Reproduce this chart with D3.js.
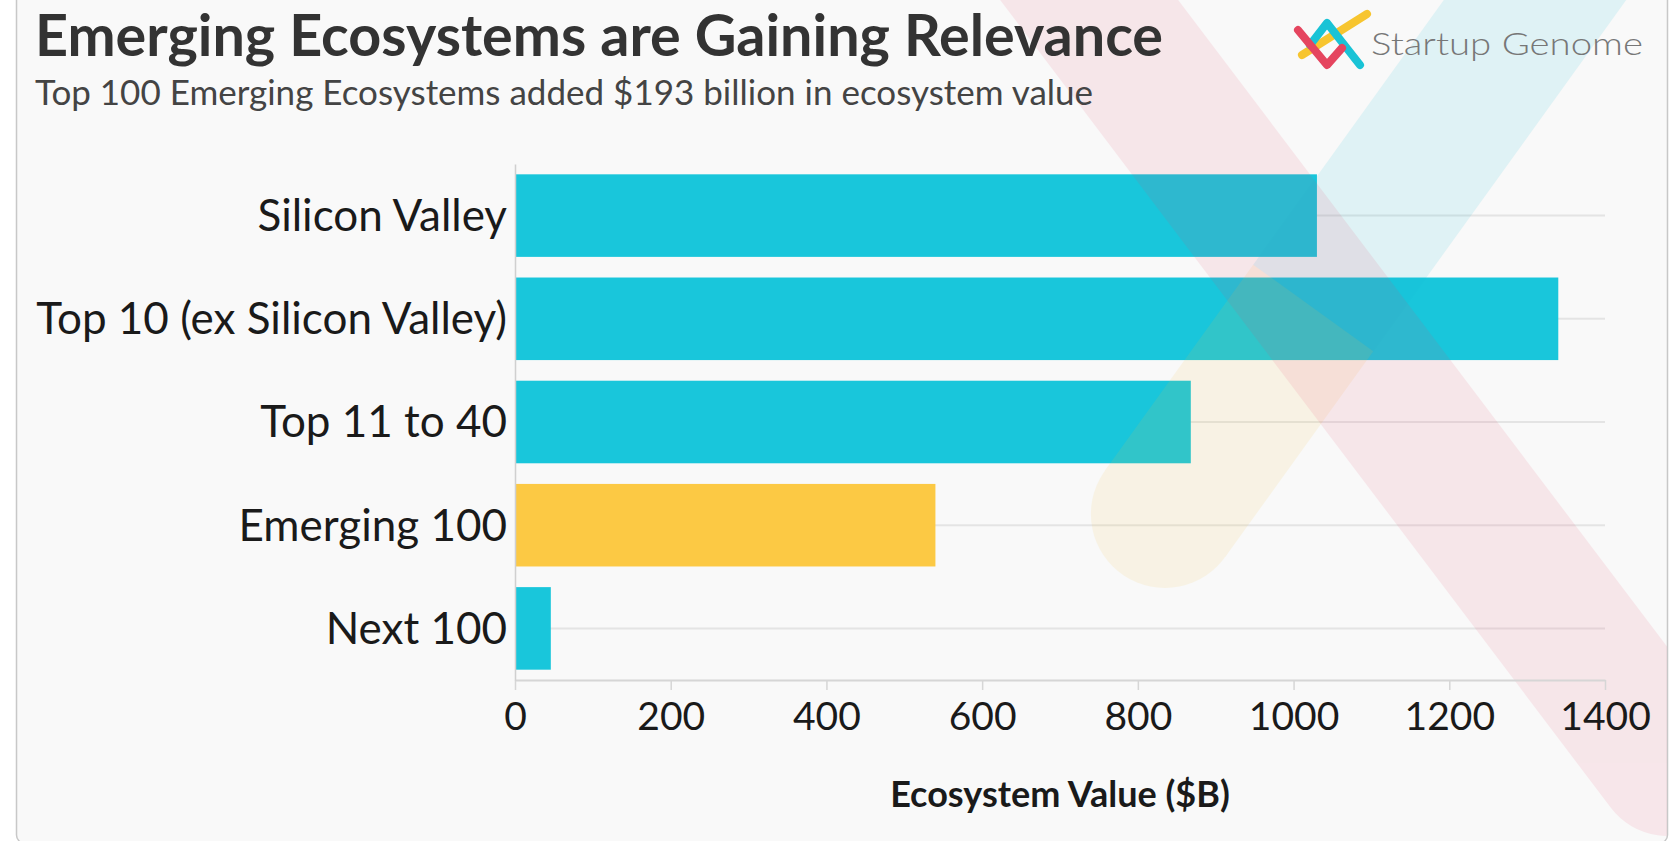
<!DOCTYPE html>
<html>
<head>
<meta charset="utf-8">
<script src="https://cdn.jsdelivr.net/npm/d3@7"></script>
<style>
  html, body { margin: 0; padding: 0; background: #ffffff; }
  svg { display: block; }
</style>
</head>
<body>
<svg id="chart" width="1671" height="841"></svg>
<script>
// ---- data ----
const categories = ["Silicon Valley", "Top 10 (ex Silicon Valley)", "Top 11 to 40", "Emerging 100", "Next 100"];
const values = [1030, 1340, 868, 540, 46];
const highlight = ["Emerging 100"];
const xTicks = [0, 200, 400, 600, 800, 1000, 1200, 1400];
const title = "Emerging Ecosystems are Gaining Relevance";
const subtitle = "Top 100 Emerging Ecosystems added $193 billion in ecosystem value";
const xAxisTitle = "Ecosystem Value ($B)";
const brand = "Startup Genome";

const data = categories.map((c, i) => ({ cat: c, value: values[i] }));

const svg = d3.select("#chart");
const FONT = "Lato, 'Noto Sans', sans-serif";

// panel
svg.append("defs").append("clipPath").attr("id", "panelClip")
  .append("rect").attr("x", 17).attr("y", -20).attr("width", 1650).attr("height", 862).attr("rx", 8);

svg.append("rect")
  .attr("x", 16.5).attr("y", -20).attr("width", 1651).attr("height", 863).attr("rx", 8)
  .attr("fill", "#f9f9f9").attr("stroke", "#c8c8c8").attr("stroke-width", 1.5);

// scales
const x = d3.scaleLinear().domain([0, 1400]).range([515, 1605]);
const y = d3.scaleBand().domain(categories).range([164, 680]).paddingInner(0.2).paddingOuter(0.1);

// gridlines at category centres
svg.append("g").selectAll("line").data(categories).join("line")
  .attr("x1", x(0)).attr("x2", x(1400))
  .attr("y1", d => y(d) + y.bandwidth() / 2).attr("y2", d => y(d) + y.bandwidth() / 2)
  .attr("stroke", "#e4e4e4").attr("stroke-width", 2);

// bars
svg.append("g").selectAll("rect").data(data).join("rect")
  .attr("x", x(0))
  .attr("y", d => y(d.cat))
  .attr("width", d => x(d.value) - x(0))
  .attr("height", y.bandwidth())
  .attr("fill", d => highlight.includes(d.cat) ? "#fcc944" : "#19c6db");

// watermark "X"
const wm = svg.append("g").attr("clip-path", "url(#panelClip)");
// yellow / cyan band (bottom-left to top-right)
const bandX = Y => 1535 - 0.72 * Y;
const cross = 308;
const yel = wm.append("g").attr("opacity", 0.11);
yel.append("line")
  .attr("x1", bandX(514)).attr("y1", 514).attr("x2", bandX(cross)).attr("y2", cross)
  .attr("stroke", "#f5c342").attr("stroke-width", 148).attr("stroke-linecap", "butt");
yel.append("circle").attr("cx", bandX(514)).attr("cy", 514).attr("r", 74).attr("fill", "#f5c342");
wm.append("line")
  .attr("x1", bandX(cross)).attr("y1", cross).attr("x2", bandX(-200)).attr("y2", -200)
  .attr("stroke", "#15bdd6").attr("stroke-width", 148).attr("stroke-linecap", "butt")
  .attr("opacity", 0.11);
// pink band (top-left to bottom-right)
const pinkX = Y => 1573 + 0.756 * (Y - 640);
wm.append("line")
  .attr("x1", pinkX(-200)).attr("y1", -200).attr("x2", pinkX(765)).attr("y2", 765)
  .attr("stroke", "#e6476a").attr("stroke-width", 142).attr("stroke-linecap", "round")
  .attr("opacity", 0.1);

// x axis
const xAxis = svg.append("g").attr("transform", "translate(0,680)")
  .call(d3.axisBottom(x).tickValues(xTicks).tickFormat(d3.format("d")).tickSize(10).tickSizeOuter(0).tickPadding(12));
xAxis.select(".domain").attr("stroke", "#d6d6d6").attr("stroke-width", 2);
xAxis.selectAll(".tick line").attr("stroke", "#d6d6d6").attr("stroke-width", 1.5);
xAxis.selectAll(".tick text").attr("font-family", FONT).attr("font-size", 39).attr("fill", "#1a1a1a");

// y axis
const yAxis = svg.append("g").attr("transform", `translate(${x(0)},0)`)
  .call(d3.axisLeft(y).tickSize(0).tickPadding(8));
yAxis.select(".domain").attr("stroke", "#d0d0d0").attr("stroke-width", 1.5);
yAxis.selectAll(".tick text").attr("font-family", FONT).attr("font-size", 44).attr("fill", "#1a1a1a").attr("dy", "0.35em");

// axis title
svg.append("text").attr("x", (x(0) + x(1400)) / 2).attr("y", 807)
  .attr("text-anchor", "middle").attr("font-family", FONT).attr("font-weight", 700)
  .attr("font-size", 36).attr("fill", "#1a1a1a").text(xAxisTitle);

// title & subtitle
svg.append("text").attr("x", 35).attr("y", 56)
  .attr("font-family", FONT).attr("font-weight", 700).attr("font-size", 57.5).attr("fill", "#333333")
  .text(title);
svg.append("text").attr("x", 35).attr("y", 105)
  .attr("font-family", FONT).attr("font-size", 35).attr("fill", "#444444")
  .text(subtitle);

// brand logo
const logo = svg.append("g");
const seg = (pts, color) => logo.append("polyline")
  .attr("points", pts.map(p => p.join(",")).join(" "))
  .attr("fill", "none").attr("stroke", color).attr("stroke-width", 8)
  .attr("stroke-linecap", "round").attr("stroke-linejoin", "round");
seg([[1302, 55], [1367, 14]], "#f7c52f");
seg([[1310, 45], [1327, 23], [1360, 65]], "#19c3d6");
seg([[1298, 30], [1327, 65], [1342, 48]], "#e5455f");
logo.append("text").attr("x", 1371).attr("y", 55)
  .attr("font-family", FONT).attr("font-weight", 300).attr("font-size", 31).attr("fill", "#777777")
  .attr("textLength", 272).attr("lengthAdjust", "spacingAndGlyphs")
  .text(brand);
</script>
</body>
</html>
